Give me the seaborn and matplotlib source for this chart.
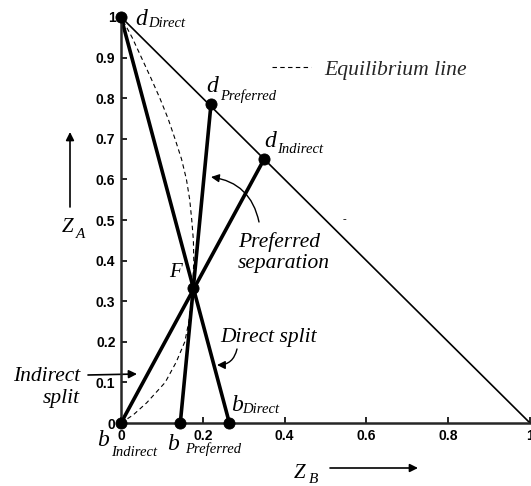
import numpy as np
import pandas as pd
import matplotlib
matplotlib.use("Agg")
import matplotlib.pyplot as plt
import seaborn as sns
from matplotlib.patches import FancyArrowPatch

# ---------------- data ----------------
point_names = ["d_Direct", "d_Preferred", "d_Indirect", "F", "b_Direct", "b_Preferred", "b_Indirect"]
point_zb = [0.0, 0.22, 0.35, 0.177, 0.265, 0.145, 0.0]
point_za = [1.0, 0.785, 0.65, 0.332, 0.0, 0.0, 0.0]

tie_lines = [("d_Direct", "b_Direct"), ("d_Preferred", "b_Preferred"), ("d_Indirect", "b_Indirect")]

edge_zb = [0.0, 1.0]
edge_za = [1.0, 0.0]

eq_za = [0.0, 0.02, 0.05, 0.1, 0.15, 0.2, 0.25, 0.3, 0.35, 0.4, 0.45, 0.5, 0.55, 0.6, 0.65, 0.7, 0.75, 0.8, 0.85, 0.9, 0.95, 1.0]
eq_zb = [0.0, 0.03, 0.063, 0.108, 0.135, 0.156, 0.166, 0.172, 0.176, 0.178, 0.177, 0.173, 0.168, 0.16, 0.148, 0.132, 0.115, 0.095, 0.073, 0.05, 0.027, 0.0]

x_ticks = [0, 0.2, 0.4, 0.6, 0.8, 1]
x_tick_labels = ["0", "0.2", "0.4", "0.6", "0.8", "1"]
y_ticks = [0, 0.1, 0.2, 0.3, 0.4, 0.5, 0.6, 0.7, 0.8, 0.9, 1]
y_tick_labels = ["0", "0.1", "0.2", "0.3", "0.4", "0.5", "0.6", "0.7", "0.8", "0.9", "1"]

# ---------------- figure ----------------
sns.set_style("ticks")
plt.rcParams["font.family"] = ["Liberation Sans", "DejaVu Sans"]

W, H = 531, 486
fig = plt.figure(figsize=(W / 100, H / 100), dpi=100)
X0, X1, Y0, Y1 = 121, 530, 423, 17
ax = fig.add_axes([X0 / W, 1 - Y0 / H, (X1 - X0) / W, (Y0 - Y1) / H])

def pd_(px, py):
    return ((px - X0) / (X1 - X0), (Y0 - py) / (Y0 - Y1))

pts = pd.DataFrame({"name": point_names, "zb": point_zb, "za": point_za}).set_index("name")

line_kw = dict(ax=ax, color="black", sort=False, estimator=None, errorbar=None, clip_on=False)
# triangle edge
sns.lineplot(x=edge_zb, y=edge_za, lw=1.2, **line_kw)
# equilibrium
sns.lineplot(x=eq_zb, y=eq_za, lw=0.8, label="Equilibrium line", **line_kw)
ax.lines[-1].set_dashes((4, 3))
# tie lines
for a, b in tie_lines:
    sns.lineplot(x=[pts.loc[a, "zb"], pts.loc[b, "zb"]], y=[pts.loc[a, "za"], pts.loc[b, "za"]],
                 lw=2.6, **line_kw)
# points
sns.scatterplot(data=pts, x="zb", y="za", ax=ax, color="black", s=64, edgecolor="black",
                zorder=5, clip_on=False, legend=False)

ax.set_xlim(0, 1)
ax.set_ylim(0, 1)
ax.set_xticks(x_ticks)
ax.set_xticklabels(x_tick_labels)
ax.set_yticks(y_ticks)
ax.set_yticklabels(y_tick_labels)
ax.set_xlabel("")
ax.set_ylabel("")
for lab in ax.get_xticklabels() + ax.get_yticklabels():
    lab.set_fontweight("bold")
    lab.set_fontsize(10)
ax.tick_params(direction="in", length=4, width=1.2, pad=4, colors="black")
sns.despine(ax=ax)
ax.spines["left"].set_linewidth(1.8)
ax.spines["bottom"].set_linewidth(1.8)
ax.patch.set_alpha(0)

# legend
ax.legend(loc="center left", bbox_to_anchor=(272 / W, 1 - 70 / H), bbox_transform=fig.transFigure,
          frameon=False, borderpad=0, borderaxespad=0, handlelength=1.8, handletextpad=0.6,
          prop={"family": "Liberation Serif", "style": "italic", "size": 15.6})

serif = dict(family="Liberation Serif", style="italic", color="black")

def txt(px, py, s, size, ha="left"):
    x, y = pd_(px, py)
    ax.text(x, y, s, fontsize=size, ha=ha, va="baseline", clip_on=False, **serif)

# point labels: (main letter, subscript)
txt(135, 25, "d", 17); txt(148, 27, "Direct", 10.5)
txt(206, 92, "d", 17); txt(220, 100, "Preferred", 10.5)
txt(264, 147, "d", 17); txt(277, 153, "Indirect", 10.5)
txt(231, 411, "b", 17); txt(242, 413, "Direct", 10.5)
txt(97, 446, "b", 17); txt(111, 456, "Indirect", 10.5)
txt(167, 450, "b", 17); txt(185, 453, "Preferred", 10.5)
txt(169, 277, "F", 15)

# axis labels
txt(62, 232, "Z", 15); txt(76, 238, "A", 11)
txt(294, 478, "Z", 15); txt(309, 483, "B", 11)

# annotations
txt(238, 247, "Preferred", 15.5)
txt(238, 268, "separation", 15.5)
txt(220, 342, "Direct split", 15.5)
txt(80, 381, "Indirect", 15.5, ha="right")
txt(80, 403, "split", 15.5, ha="right")
txt(343, 222, "-", 8)

def arrow(p0, p1, rad=0.0, lw=1.0, ms=12):
    a = FancyArrowPatch(pd_(*p0), pd_(*p1), connectionstyle=f"arc3,rad={rad}",
                        arrowstyle="-|>", mutation_scale=ms, lw=lw, color="black",
                        transform=ax.transData, clip_on=False, shrinkA=0, shrinkB=0)
    ax.add_patch(a)

arrow((70, 207), (70, 132), 0, lw=1.2)
arrow((330, 468), (418, 468), 0, lw=1.2)
arrow((259, 222), (211, 177), 0.35)
arrow((237, 349), (217, 365), -0.4)
arrow((88, 375), (137, 374), 0, lw=1.2)

fig.savefig("out.png", dpi=100)
